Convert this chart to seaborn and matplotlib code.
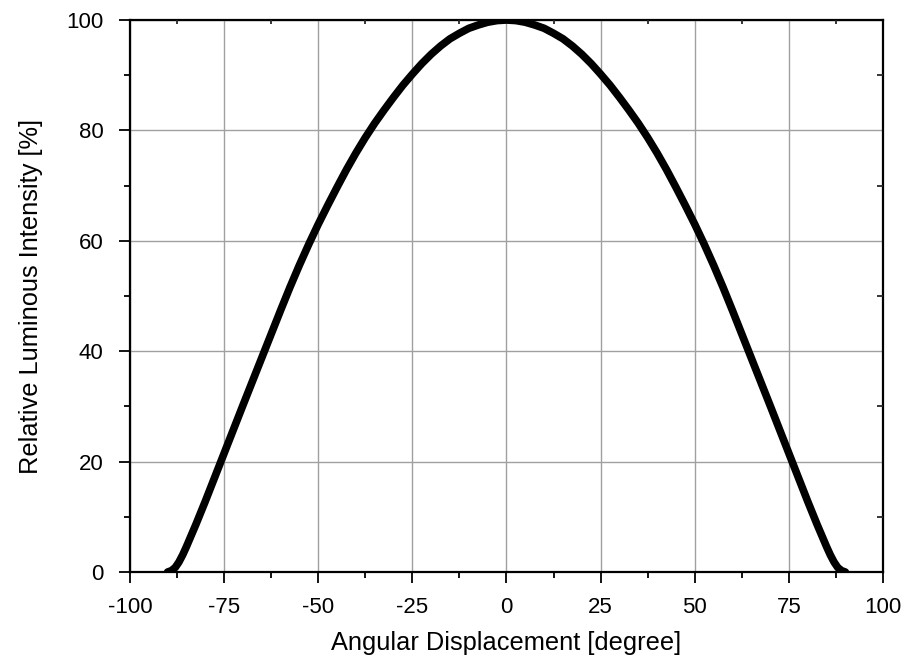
import matplotlib
matplotlib.use("Agg")
import matplotlib.pyplot as plt
from matplotlib.ticker import MultipleLocator
import pandas as pd
import seaborn as sns

# Radiation pattern: relative luminous intensity vs. angle (symmetric about 0)
angle_half = [0, 2.5, 5, 7.5, 10, 12.5, 15, 17.5, 20, 22.5, 25, 27.5, 30, 32.5, 35, 37.5,
              40, 42.5, 45, 47.5, 50, 52.5, 55, 57.5, 60, 65, 70, 75, 80, 82.5, 85, 86,
              87, 88, 89, 90]
intensity_half = [100, 99.9, 99.6, 99.1, 98.5, 97.6, 96.6, 95.3, 93.8, 92.1, 90.2, 88.2,
                  86.0, 83.7, 81.3, 78.7, 75.9, 72.9, 69.7, 66.4, 63.0, 59.4, 55.6, 51.6,
                  47.4, 38.8, 30.2, 21.5, 12.8, 8.6, 4.6, 3.1, 1.8, 0.8, 0.25, 0.0]

angles = [-a for a in angle_half[:0:-1]] + angle_half
intensity = intensity_half[:0:-1] + intensity_half

x_ticks = [-100, -75, -50, -25, 0, 25, 50, 75, 100]
y_ticks = [0, 20, 40, 60, 80, 100]

sns.set_theme(style="ticks")
plt.rcParams["font.family"] = ["Liberation Sans", "DejaVu Sans"]
plt.rcParams["axes.unicode_minus"] = False

df = pd.DataFrame({"angle": angles, "intensity": intensity})

fig = plt.figure(figsize=(9.05, 6.61), dpi=100)
ax = fig.add_axes([0.1436, 0.1346, 0.8321, 0.8351])

sns.lineplot(data=df, x="angle", y="intensity", ax=ax, color="black",
             linewidth=5.5, sort=False, zorder=3,
             solid_joinstyle="round", solid_capstyle="round")

ax.set_xlim(-100, 100)
ax.set_ylim(0, 100)
ax.set_xticks(x_ticks)
ax.set_yticks(y_ticks)
ax.set_xticklabels([str(v) for v in x_ticks])
ax.set_yticklabels([str(v) for v in y_ticks])
ax.xaxis.set_minor_locator(MultipleLocator(12.5))
ax.yaxis.set_minor_locator(MultipleLocator(10))

ax.grid(True, which="major", color="#a0a0a0", linewidth=1.0)
ax.set_axisbelow(True)

for side in ["left", "right", "top", "bottom"]:
    ax.spines[side].set_visible(True)
    ax.spines[side].set_color("black")
    ax.spines[side].set_linewidth(1.6)

ax.tick_params(axis="both", which="major", direction="out", length=8, width=1.3,
               labelsize=16, colors="black")
ax.tick_params(axis="x", which="major", pad=10)
ax.tick_params(axis="y", which="major", pad=11)
ax.tick_params(axis="both", which="minor", direction="out", length=4, width=1.3,
               colors="black")
ax.tick_params(axis="x", which="both", top=False)
ax.tick_params(axis="y", which="both", right=False)

# inward minor ticks on the top and right frame
top = ax.twiny()
top.set_xlim(ax.get_xlim())
top.set_xticks(x_ticks)
top.xaxis.set_minor_locator(MultipleLocator(12.5))
top.tick_params(axis="x", which="minor", direction="in", length=3, width=1.3,
                top=True)
top.tick_params(axis="x", which="major", length=0, labeltop=False)
right = ax.twinx()
right.set_ylim(ax.get_ylim())
right.set_yticks(y_ticks)
right.yaxis.set_minor_locator(MultipleLocator(10))
right.tick_params(axis="y", which="minor", direction="in", length=4, width=1.3,
                  right=True)
right.tick_params(axis="y", which="major", length=0, labelright=False)
for a in (top, right):
    for s in a.spines.values():
        s.set_visible(False)

ax.set_xlabel("Angular Displacement [degree]", fontsize=18.3, color="black", labelpad=9)
ax.set_ylabel("Relative Luminous Intensity [%]", fontsize=18.3, color="black", labelpad=17)

fig.savefig("out.png", dpi=100, facecolor="white")
